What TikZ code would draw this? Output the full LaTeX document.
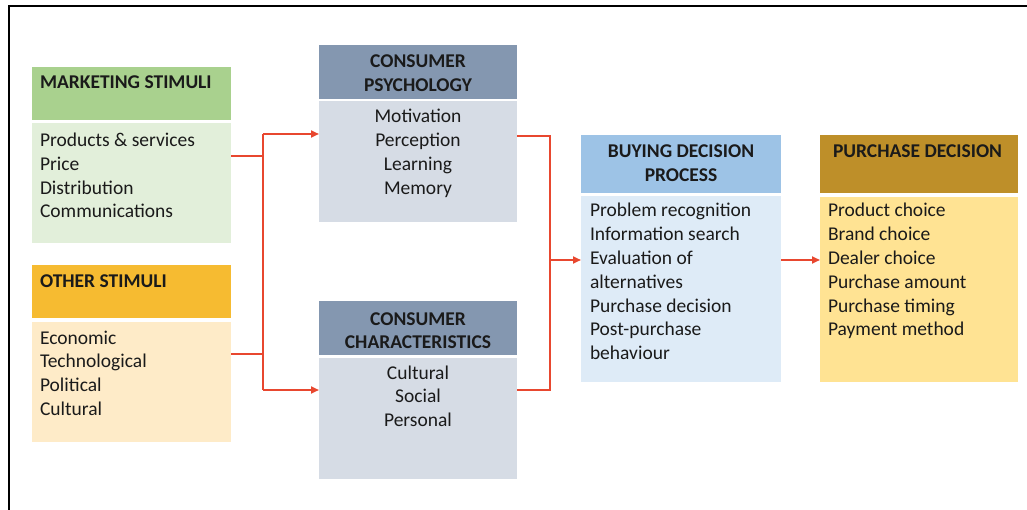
\documentclass[tikz,border=0pt]{standalone}
\usepackage{fontspec}
\setmainfont{Carlito}
\usetikzlibrary{arrows.meta}
\definecolor{mshc}{HTML}{A9D18E}
\definecolor{msbc}{HTML}{E2EFDA}
\definecolor{oshc}{HTML}{F6BB31}
\definecolor{osbc}{HTML}{FEEBC8}
\definecolor{cphc}{HTML}{8497B0}
\definecolor{cpbc}{HTML}{D6DCE5}
\definecolor{bdhc}{HTML}{9DC3E6}
\definecolor{bdbc}{HTML}{DEEBF7}
\definecolor{pdhc}{HTML}{BE8F29}
\definecolor{pdbc}{HTML}{FFE393}
\definecolor{linkc}{HTML}{E8472F}
\definecolor{txtc}{HTML}{1A1A1A}
\begin{document}
\begin{tikzpicture}[x=1pt,y=-1pt,
  box/.style={rectangle, inner sep=0pt, outer sep=0pt, anchor=north west, draw=none},
  txt/.style={inner sep=0pt, outer sep=0pt, text=txtc, font=\fontsize{19.5}{23.8}\selectfont},
  htxt/.style={txt, font=\fontsize{19.5}{23.8}\selectfont\bfseries},
  link/.style={draw=linkc, line width=2pt},
  arr/.style={link, -{Triangle[length=8pt,width=7pt]}}]
\useasboundingbox (0,0) rectangle (1027,510);
\draw[line width=2pt] (9,512) -- (9,6) -- (1030,6);

% Marketing stimuli
\node[box, fill=mshc, minimum width=199pt, minimum height=53pt] (msh) at (32,67) {};
\node[box, fill=msbc, minimum width=199pt, minimum height=120pt] (msb) at (32,123) {};
\node[htxt, anchor=base west] (msht) at (40,89) {MARKETING STIMULI};
\node[txt, anchor=base west] (msbt) at (40,146.5) {\begin{tabular}[t]{@{}l@{}}Products \& services\\Price\\Distribution\\Communications\end{tabular}};

% Other stimuli
\node[box, fill=oshc, minimum width=199pt, minimum height=53pt] (osh) at (32,265) {};
\node[box, fill=osbc, minimum width=199pt, minimum height=120pt] (osb) at (32,322) {};
\node[htxt, anchor=base west] (osht) at (40,288) {OTHER STIMULI};
\node[txt, anchor=base west] (osbt) at (40,344) {\begin{tabular}[t]{@{}l@{}}Economic\\Technological\\Political\\Cultural\end{tabular}};

% Consumer psychology
\node[box, fill=cphc, minimum width=198pt, minimum height=54pt] (cph) at (319,45) {};
\node[box, fill=cpbc, minimum width=198pt, minimum height=121pt] (cpb) at (319,101) {};
\node[htxt, anchor=base] (cpht) at (418,68) {\begin{tabular}[t]{@{}c@{}}CONSUMER\\PSYCHOLOGY\end{tabular}};
\node[txt, anchor=base] (cpbt) at (418,123) {\begin{tabular}[t]{@{}c@{}}Motivation\\Perception\\Learning\\Memory\end{tabular}};

% Consumer characteristics
\node[box, fill=cphc, minimum width=198pt, minimum height=54pt] (cch) at (319,301) {};
\node[box, fill=cpbc, minimum width=198pt, minimum height=121pt] (ccb) at (319,358) {};
\node[htxt, anchor=base] (ccht) at (418,325) {\begin{tabular}[t]{@{}c@{}}CONSUMER\\CHARACTERISTICS\end{tabular}};
\node[txt, anchor=base] (ccbt) at (418,379) {\begin{tabular}[t]{@{}c@{}}Cultural\\Social\\Personal\end{tabular}};

% Buying decision process
\node[box, fill=bdhc, minimum width=200pt, minimum height=58pt] (bdh) at (581,135) {};
\node[box, fill=bdbc, minimum width=200pt, minimum height=186pt] (bdb) at (581,196) {};
\node[htxt, anchor=base] (bdht) at (681,158) {\begin{tabular}[t]{@{}c@{}}BUYING DECISION\\PROCESS\end{tabular}};
\node[txt, anchor=base west] (bdbt) at (590,217) {\begin{tabular}[t]{@{}l@{}}Problem recognition\\Information search\\Evaluation of\\alternatives\\Purchase decision\\Post-purchase\\behaviour\end{tabular}};

% Purchase decision
\node[box, fill=pdhc, minimum width=198pt, minimum height=58pt] (pdh) at (820,135) {};
\node[box, fill=pdbc, minimum width=198pt, minimum height=185pt] (pdb) at (820,197) {};
\node[htxt, anchor=base west] (pdht) at (833,158) {PURCHASE DECISION};
\node[txt, anchor=base west] (pdbt) at (828,217) {\begin{tabular}[t]{@{}l@{}}Product choice\\Brand choice\\Dealer choice\\Purchase amount\\Purchase timing\\Payment method\end{tabular}};

% connectors
\coordinate (jA) at (263,156);
\coordinate (jB) at (263,354);
\coordinate (jT) at (263,134);
\coordinate (jD) at (263,390);
\coordinate (kT) at (550,136);
\coordinate (kD) at (550,390);
\coordinate (kM) at (550,260);
\draw[link] (msb.east |- jA) -- (jA);
\draw[link] (osb.east |- jB) -- (jB);
\draw[link] (jT) -- (jD);
\draw[arr] (jT) -- (cpb.west |- jT);
\draw[arr] (jD) -- (ccb.west |- jD);
\draw[link] (cpb.east |- kT) -- (kT) -- (kD) -- (ccb.east |- kD);
\draw[arr] (kM) -- (bdb.west |- kM);
\draw[arr] (bdb.east |- kM) -- (pdb.west |- kM);
\end{tikzpicture}
\end{document}
